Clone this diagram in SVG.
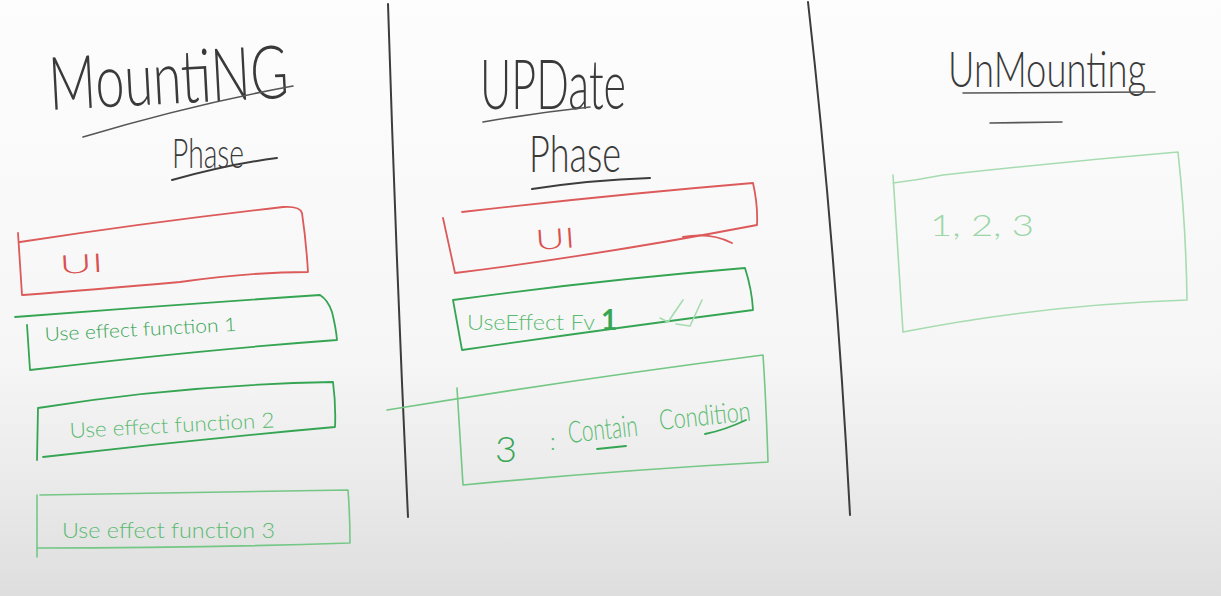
<svg xmlns="http://www.w3.org/2000/svg" width="1221" height="596" viewBox="0 0 1221 596">
  <defs>
    <linearGradient id="board" x1="0" y1="0" x2="0" y2="1">
      <stop offset="0" stop-color="#fdfdfd"/>
      <stop offset="0.6" stop-color="#f6f6f6"/>
      <stop offset="0.8" stop-color="#ebebeb"/>
      <stop offset="1" stop-color="#dedede"/>
    </linearGradient>
  </defs>
  <style>
    .ink { fill: none; stroke-linecap: round; stroke-linejoin: round; }
    .black { stroke: #3c3c3c; stroke-width: 2; }
    .grey { stroke: #555; stroke-width: 1.6; }
    .red { stroke: #dc5a5a; stroke-width: 1.8; }
    .green { stroke: #35a553; stroke-width: 1.8; }
    .lgreen { stroke: #74c785; stroke-width: 1.6; }
    .pgreen { stroke: #a6dcb0; stroke-width: 1.6; }
    text { font-family: "Lato", "Open Sans", "Liberation Sans", sans-serif; font-weight: 300; }
    text.bold { font-weight: 700; }
    .title { fill: #3a3a3a; }
    .tred { fill: #d9504f; }
    .tgreen { fill: #36a554; }
    .tlgreen { fill: #5bbb70; }
    .tpgreen { fill: #9cd6a7; }
  </style>

  <rect x="0" y="0" width="1221" height="596" fill="url(#board)"/>

  <!-- column dividers -->
  <g id="dividers" class="ink black">
    <path d="M388 4 Q396 260 408 517"/>
    <path d="M808 2 Q836 250 850 515"/>
  </g>

  <!-- Mounting column -->
  <g id="mounting-title">
    <text class="title" x="50" y="110" font-size="74" textLength="240" lengthAdjust="spacingAndGlyphs" transform="rotate(-3 50 110)">MountiNG</text>
    <path class="ink grey" d="M83 137 Q190 105 293 86"/>
    <text class="title" x="172" y="168" font-size="42" textLength="72" lengthAdjust="spacingAndGlyphs">Phase</text>
    <path class="ink black" d="M172 180 Q230 164 277 158"/>
  </g>

  <g id="mount-ui">
    <path class="ink red" d="M18 233 L22 295 M20 242 Q150 222 283 207 Q300 206 302 213 Q306 240 308 272 Q250 272 180 282 Q90 290 23 295"/>
    <text class="tred" x="60" y="274" font-size="26" textLength="44" lengthAdjust="spacingAndGlyphs" transform="rotate(-3 60 274)">UI</text>
  </g>

  <g id="mount-effect-1">
    <path class="ink green" d="M15 317 Q170 305 320 295 Q328 300 332 312 Q336 328 337 340 Q200 350 30 370 M27 325 L30 370"/>
    <text class="tgreen" x="45" y="341" font-size="19" textLength="192" lengthAdjust="spacingAndGlyphs" transform="rotate(-3 45 341)">Use effect function 1</text>
  </g>

  <g id="mount-effect-2">
    <path class="ink green" d="M38 408 L37 460 M38 408 Q180 385 333 382 Q336 405 335 427 Q190 440 43 457"/>
    <text class="tlgreen" x="70" y="438" font-size="21" textLength="205" lengthAdjust="spacingAndGlyphs" transform="rotate(-3 70 438)">Use effect function 2</text>
  </g>

  <g id="mount-effect-3">
    <path class="ink lgreen" d="M37 495 L37 557 M40 495 Q190 492 348 490 Q350 515 350 543 Q200 548 37 548"/>
    <text class="tlgreen" x="62" y="538" font-size="21" textLength="213" lengthAdjust="spacingAndGlyphs">Use effect function 3</text>
  </g>

  <!-- Update column -->
  <g id="update-title">
    <text class="title" x="480" y="109" font-size="68" textLength="146" lengthAdjust="spacingAndGlyphs">UPDate</text>
    <path class="ink grey" d="M483 122 Q535 113 590 107"/>
    <text class="title" x="529" y="172" font-size="52" textLength="92" lengthAdjust="spacingAndGlyphs">Phase</text>
    <path class="ink black" d="M532 189 Q590 180 650 178"/>
  </g>

  <g id="update-ui">
    <path class="ink red" d="M443 218 Q450 250 455 273 Q600 255 757 225 Q758 205 753 183 Q610 195 462 212"/>
    <path class="ink red" d="M683 237 Q710 232 732 243"/>
    <text class="tred" x="536" y="250" font-size="28" textLength="40" lengthAdjust="spacingAndGlyphs" transform="rotate(-4 536 250)">UI</text>
  </g>

  <g id="update-effect-1">
    <path class="ink green" d="M453 300 L462 350 M453 300 Q600 280 745 268 Q752 290 753 310 Q600 330 462 350"/>
    <text class="tlgreen" x="467" y="330" font-size="22" textLength="128" lengthAdjust="spacingAndGlyphs">UseEffect Fv</text>
    <text class="tgreen bold" x="601" y="330" font-size="28">1</text>
    <path class="ink pgreen" d="M660 318 L668 322 L683 300 M676 324 L690 326 L702 300"/>
  </g>

  <g id="update-condition">
    <path class="ink lgreen" d="M387 410 Q570 380 763 355 Q766 400 768 462 Q620 470 463 485 M457 388 L463 485"/>
    <text class="tgreen" x="495" y="462" font-size="36" textLength="22" lengthAdjust="spacingAndGlyphs">3</text>
    <text class="tlgreen" x="550" y="450" font-size="24">:</text>
    <text class="tlgreen" x="569" y="443" font-size="30" textLength="70" lengthAdjust="spacingAndGlyphs" transform="rotate(-6 569 443)">Contain</text>
    <text class="tlgreen" x="660" y="430" font-size="28" textLength="92" lengthAdjust="spacingAndGlyphs" transform="rotate(-6 660 430)">Condition</text>
    <path class="ink green" d="M597 449 L626 446 M705 434 Q725 430 746 420"/>
  </g>

  <!-- Unmounting column -->
  <g id="unmounting-title">
    <text class="title" x="948" y="87" font-size="50" textLength="198" lengthAdjust="spacingAndGlyphs">UnMounting</text>
    <path class="ink grey" d="M963 93 L1155 92"/>
    <path class="ink grey" d="M990 123 L1062 122"/>
  </g>

  <g id="unmount-box">
    <path class="ink pgreen" d="M893 175 L903 332 M893 183 Q918 180 943 175 Q1060 162 1178 152 Q1186 225 1187 300 Q1040 305 903 332"/>
    <text class="tpgreen" x="930" y="236" font-size="30" textLength="104" lengthAdjust="spacingAndGlyphs">1, 2, 3</text>
  </g>
</svg>
